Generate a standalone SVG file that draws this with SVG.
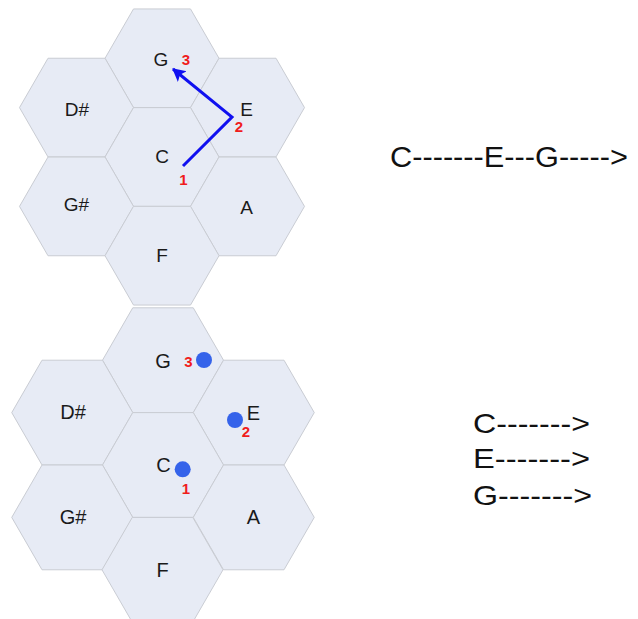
<svg xmlns="http://www.w3.org/2000/svg" width="638" height="619" viewBox="0 0 638 619">
<style>
.hex{fill:#e7ebf5;stroke:#c9ccd3;stroke-width:1}
.lbl{font-family:"Liberation Sans",Arial,sans-serif;fill:#1a1a1a;text-anchor:middle}
.t{font-size:19px}
.b{font-size:20px}
.num{font-family:"Liberation Sans",Arial,sans-serif;font-weight:bold;fill:#f01c1c;font-size:15px;text-anchor:middle}
.dot{fill:#3563ea}
.seq{font-family:"Liberation Sans",Arial,sans-serif;fill:#111}
</style>
<defs>
<polygon id="hexA" points="-57,0 -28.5,-49.36 28.5,-49.36 57,0 28.5,49.36 -28.5,49.36"/>
<polygon id="hexB" points="-60.5,0 -30.25,-52.39 30.25,-52.39 60.5,0 30.25,52.39 -30.25,52.39"/>
<marker id="ah" markerUnits="userSpaceOnUse" markerWidth="16" markerHeight="16" refX="12" refY="7" orient="auto" viewBox="0 0 16 14">
<path d="M0,0 L13,7 L0,14 L3,7 Z" fill="#1010f0"/>
</marker>
</defs>

<g id="top-cluster">
<g id="top-G"><use href="#hexA" class="hex" x="162" y="58.3"/><text class="lbl t" x="161" y="66">G</text></g>
<g id="top-Dsharp"><use href="#hexA" class="hex" x="76.5" y="107.6"/><text class="lbl t" x="77" y="115.5">D#</text></g>
<g id="top-E"><use href="#hexA" class="hex" x="247.5" y="107.6"/><text class="lbl t" x="246.5" y="116">E</text></g>
<g id="top-C"><use href="#hexA" class="hex" x="162" y="157"/><text class="lbl t" x="162" y="163">C</text></g>
<g id="top-Gsharp"><use href="#hexA" class="hex" x="76.5" y="206.4"/><text class="lbl t" x="76.5" y="211">G#</text></g>
<g id="top-A"><use href="#hexA" class="hex" x="247.5" y="206.4"/><text class="lbl t" x="246.5" y="213.5">A</text></g>
<g id="top-F"><use href="#hexA" class="hex" x="162" y="255.7"/><text class="lbl t" x="162" y="262">F</text></g>
</g>

<g id="bottom-cluster">
<g id="bot-G"><use href="#hexB" class="hex" x="163" y="360.2"/><text class="lbl b" x="163" y="367.5">G</text></g>
<g id="bot-Dsharp"><use href="#hexB" class="hex" x="72.25" y="412.6"/><text class="lbl b" x="73" y="418.5">D#</text></g>
<g id="bot-E"><use href="#hexB" class="hex" x="253.75" y="412.6"/><text class="lbl b" x="253.5" y="419.5">E</text></g>
<g id="bot-C"><use href="#hexB" class="hex" x="163" y="465"/><text class="lbl b" x="163.5" y="472">C</text></g>
<g id="bot-Gsharp"><use href="#hexB" class="hex" x="72.25" y="517.4"/><text class="lbl b" x="73" y="523.5">G#</text></g>
<g id="bot-A"><use href="#hexB" class="hex" x="253.75" y="517.4"/><text class="lbl b" x="253.5" y="523.5">A</text></g>
<g id="bot-F"><use href="#hexB" class="hex" x="162.5" y="569.8"/><text class="lbl b" x="162.5" y="577">F</text></g>
</g>

<g id="connectors">
<polyline points="183,166 232,117 173,69" fill="none" stroke="#1010f0" stroke-width="3" stroke-linejoin="miter" marker-end="url(#ah)"/>
</g>

<g id="step-numbers-top">
<text class="num" x="186" y="64.5">3</text>
<text class="num" x="239" y="131.5">2</text>
<text class="num" x="183.5" y="184.5">1</text>
</g>

<g id="step-dots-bottom">
<circle class="dot" cx="204" cy="360" r="8"/>
<circle class="dot" cx="235" cy="420" r="8"/>
<circle class="dot" cx="182.7" cy="469.3" r="8"/>
<text class="num" x="188.5" y="366.5">3</text>
<text class="num" x="246" y="436.5">2</text>
<text class="num" x="186" y="493.5">1</text>
</g>

<g id="sequence-melodic">
<text class="seq" x="390" y="167" font-size="30" textLength="238" lengthAdjust="spacingAndGlyphs">C-------E---G-----&gt;</text>
</g>

<g id="sequence-chord">
<text class="seq" x="473" y="433" font-size="28" textLength="117" lengthAdjust="spacingAndGlyphs">C-------&gt;</text>
<text class="seq" x="473" y="468" font-size="28" textLength="117" lengthAdjust="spacingAndGlyphs">E-------&gt;</text>
<text class="seq" x="473" y="505" font-size="28" textLength="119" lengthAdjust="spacingAndGlyphs">G-------&gt;</text>
</g>
</svg>
